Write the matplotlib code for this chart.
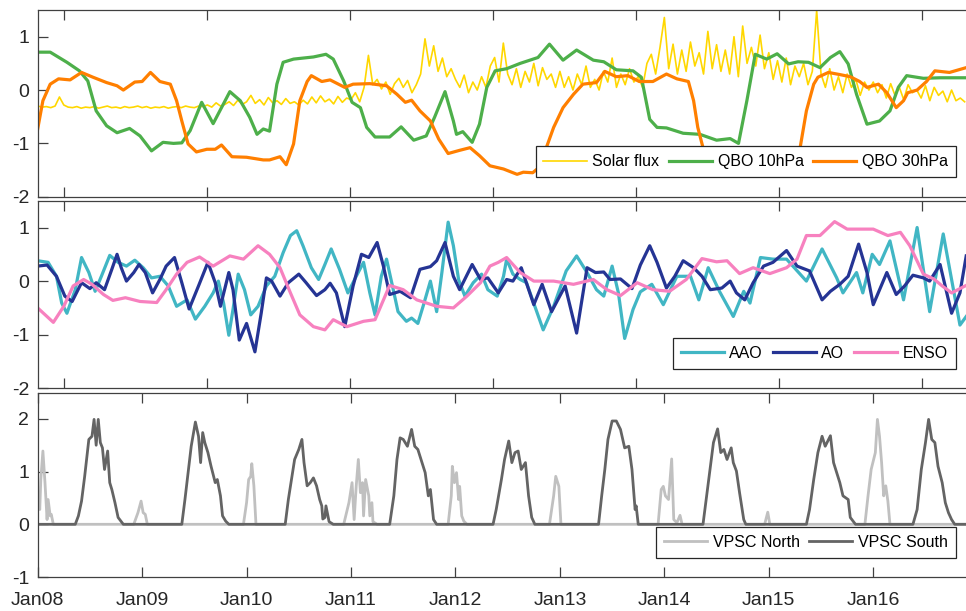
import matplotlib
matplotlib.use("Agg")
import matplotlib.pyplot as plt
import numpy as np

plt.rcParams['font.family'] = ['Liberation Sans', 'DejaVu Sans']
plt.rcParams['axes.unicode_minus'] = False

# ---- panel 1: solar flux (semi-monthly from Jan 2008) and QBO ----
solar_start = 2008.0
solar_flux = [
    -0.30, -0.32, -0.31, -0.33, -0.30, -0.13, -0.28, -0.32, -0.33, -0.31, -0.34, -0.32,
    -0.33, -0.31, -0.34, -0.32, -0.30, -0.33, -0.32, -0.34, -0.31, -0.33, -0.32, -0.30,
    -0.33, -0.31, -0.34, -0.32, -0.33, -0.31, -0.34, -0.32, -0.31, -0.33, -0.30, -0.32,
    -0.33, -0.30, -0.31, -0.28, -0.32, -0.24, -0.30, -0.27, -0.22, -0.29, -0.19, -0.27,
    -0.22, -0.10, -0.25, -0.18, -0.28, -0.14, -0.24, -0.20, -0.27, -0.16, -0.25, -0.22,
    -0.28, -0.19, -0.26, -0.13, -0.24, -0.11, -0.22, -0.17, -0.26, -0.12, -0.23, -0.15,
    -0.18, -0.05, -0.22, 0.05, 0.65, 0.10, 0.20, 0.02, 0.15, -0.08, 0.12, 0.22,
    0.05, 0.18, -0.05, 0.10, 0.30, 0.96, 0.45, 0.83, 0.35, 0.60, 0.25, 0.40,
    0.20, 0.05, 0.28, -0.05, 0.15, 0.00, 0.25, 0.05, 0.45, 0.61, 0.15, 0.88,
    0.30, 0.10, 0.40, 0.05, 0.35, 0.15, 0.50, 0.08, 0.42, 0.20, 0.30, 0.05,
    0.35, 0.05, 0.25, 0.00, 0.30, 0.10, 0.45, 0.05, 0.20, 0.00, 0.35, 0.15,
    0.60, 0.05, 0.30, 0.10, 0.40, 0.15, 0.25, 0.05, 0.50, 0.67, 0.30, 0.80,
    1.36, 0.40, 0.86, 0.30, 0.75, 0.35, 0.90, 0.45, 0.70, 0.30, 1.10, 0.40,
    0.85, 0.35, 0.75, 0.30, 1.00, 0.25, 1.20, 0.50, 0.80, 0.45, 1.03, 0.40,
    0.70, 0.20, 0.55, 0.15, 0.60, 0.10, 0.45, 0.25, 0.50, 0.10, 0.35, 1.49,
    0.30, 0.05, 0.40, 0.00, 0.25, -0.05, 0.30, 0.05, 0.20, -0.10, 0.15, 0.00,
    0.15, -0.05, 0.10, -0.15, 0.12, -0.10, 0.05, -0.18, 0.10, -0.05, 0.00, -0.15,
    0.08, -0.20, 0.05, -0.10, -0.02, -0.22, 0.00, -0.20, -0.15, -0.22,
]

qbo10_t = [2008.00, 2008.12, 2008.28, 2008.40, 2008.48, 2008.56, 2008.66, 2008.76, 2008.88, 2008.98,
           2009.09, 2009.20, 2009.30, 2009.38, 2009.46, 2009.57, 2009.68, 2009.76, 2009.84, 2009.94,
           2010.03, 2010.10, 2010.16, 2010.22, 2010.29, 2010.35, 2010.45, 2010.64, 2010.76, 2010.83,
           2010.93, 2011.01, 2011.09, 2011.15, 2011.23, 2011.37, 2011.48, 2011.60, 2011.72, 2011.80,
           2011.90, 2011.98, 2012.01, 2012.07, 2012.16, 2012.23, 2012.30, 2012.38, 2012.49, 2012.62,
           2012.79, 2012.90, 2013.03, 2013.16, 2013.32, 2013.42, 2013.54, 2013.70, 2013.78, 2013.86,
           2013.93, 2014.02, 2014.18, 2014.34, 2014.50, 2014.63, 2014.71, 2014.79, 2014.87, 2014.98,
           2015.08, 2015.19, 2015.28, 2015.38, 2015.49, 2015.59, 2015.68, 2015.76, 2015.84, 2015.94,
           2016.06, 2016.16, 2016.24, 2016.32, 2016.48, 2016.64, 2016.89]
qbo10_v = [0.71, 0.71, 0.52, 0.36, 0.17, -0.39, -0.67, -0.80, -0.72, -0.86,
           -1.14, -0.98, -1.00, -0.99, -0.76, -0.23, -0.63, -0.33, -0.03, -0.20,
           -0.51, -0.83, -0.73, -0.77, 0.11, 0.52, 0.58, 0.62, 0.67, 0.58,
           0.17, -0.23, -0.33, -0.70, -0.88, -0.88, -0.69, -0.94, -0.86, -0.51,
           -0.03, -0.58, -0.83, -0.78, -0.98, -0.64, 0.05, 0.36, 0.40, 0.50,
           0.61, 0.86, 0.56, 0.75, 0.56, 0.53, 0.38, 0.36, 0.24, -0.55,
           -0.70, -0.71, -0.81, -0.83, -0.94, -0.91, -1.00, -0.20, 0.67, 0.58,
           0.68, 0.49, 0.53, 0.52, 0.42, 0.61, 0.72, 0.49, -0.08, -0.64,
           -0.58, -0.39, 0.05, 0.27, 0.22, 0.23, 0.23]

qbo30_t = [2008.00, 2008.05, 2008.12, 2008.20, 2008.31, 2008.42, 2008.53, 2008.66, 2008.76, 2008.82,
           2008.93, 2009.00, 2009.08, 2009.17, 2009.27, 2009.33, 2009.38, 2009.44, 2009.52, 2009.62,
           2009.70, 2009.76, 2009.86, 2010.00, 2010.16, 2010.22, 2010.32, 2010.38, 2010.45, 2010.51,
           2010.58, 2010.62, 2010.72, 2010.80, 2010.94, 2011.02, 2011.18, 2011.34, 2011.44, 2011.52,
           2011.58, 2011.66, 2011.76, 2011.84, 2011.93, 2012.04, 2012.14, 2012.23, 2012.33, 2012.46,
           2012.59, 2012.65, 2012.74, 2012.80, 2012.87, 2012.94, 2013.03, 2013.13, 2013.22, 2013.35,
           2013.43, 2013.54, 2013.65, 2013.76, 2013.89, 2014.02, 2014.12, 2014.23, 2014.28, 2014.32,
           2014.37, 2014.45, 2014.60, 2014.90, 2015.15, 2015.25, 2015.30, 2015.36, 2015.43, 2015.47,
           2015.57, 2015.68, 2015.78, 2015.87, 2015.94, 2016.05, 2016.13, 2016.22, 2016.29, 2016.33,
           2016.42, 2016.51, 2016.59, 2016.73, 2016.89]
qbo30_v = [-0.73, -0.20, 0.11, 0.21, 0.19, 0.33, 0.24, 0.14, 0.08, 0.00,
           0.15, 0.16, 0.33, 0.16, 0.11, -0.20, -0.58, -1.01, -1.16, -1.11,
           -1.11, -1.03, -1.25, -1.26, -1.31, -1.31, -1.25, -1.40, -1.01, -0.20,
           0.16, 0.27, 0.16, 0.19, 0.05, 0.11, 0.12, 0.08, -0.08, -0.23,
           -0.19, -0.39, -0.58, -0.92, -1.19, -1.13, -1.08, -1.23, -1.42, -1.48,
           -1.58, -1.54, -1.55, -1.45, -1.08, -0.70, -0.33, -0.08, 0.11, 0.14,
           0.35, 0.25, 0.27, 0.16, 0.16, 0.30, 0.21, 0.16, -0.20, -0.70,
           -1.08, -1.55, -1.60, -1.60, -1.58, -1.45, -1.08, -0.39, 0.11, 0.24,
           0.33, 0.29, 0.25, 0.16, 0.05, 0.11, -0.05, -0.33, -0.20, -0.05,
           0.00, 0.16, 0.36, 0.33, 0.42]

# ---- panel 2: AAO, AO, ENSO ----
aao_t = [2008.00, 2008.10, 2008.18, 2008.23, 2008.28, 2008.36, 2008.42, 2008.49, 2008.55, 2008.61,
         2008.69, 2008.77, 2008.85, 2008.93, 2009.01, 2009.09, 2009.17, 2009.25, 2009.33, 2009.43,
         2009.51, 2009.60, 2009.68, 2009.73, 2009.78, 2009.83, 2009.87, 2009.92, 2009.98, 2010.04,
         2010.11, 2010.19, 2010.27, 2010.35, 2010.42, 2010.48, 2010.54, 2010.62, 2010.69, 2010.75,
         2010.81, 2010.89, 2010.97, 2011.05, 2011.12, 2011.18, 2011.23, 2011.29, 2011.34, 2011.39,
         2011.45, 2011.53, 2011.58, 2011.64, 2011.69, 2011.76, 2011.82, 2011.87, 2011.93, 2011.98,
         2012.03, 2012.09, 2012.17, 2012.25, 2012.31, 2012.40, 2012.46, 2012.49, 2012.55, 2012.62,
         2012.68, 2012.76, 2012.84, 2012.94, 2013.06, 2013.16, 2013.26, 2013.35, 2013.42, 2013.50,
         2013.56, 2013.62, 2013.70, 2013.77, 2013.88, 2013.99, 2014.12, 2014.25, 2014.33, 2014.42,
         2014.53, 2014.66, 2014.76, 2014.82, 2014.92, 2015.04, 2015.17, 2015.36, 2015.51, 2015.65,
         2015.71, 2015.84, 2015.90, 2015.99, 2016.06, 2016.16, 2016.29, 2016.42, 2016.54, 2016.67,
         2016.83, 2016.89]
aao_v = [0.38, 0.35, 0.09, -0.41, -0.60, -0.16, 0.44, 0.16, -0.19, 0.09,
         0.48, 0.35, 0.28, 0.39, 0.25, 0.06, 0.09, -0.09, -0.47, -0.35,
         -0.71, -0.47, -0.22, 0.00, -0.41, -1.01, -0.53, 0.13, -0.16, -0.63,
         -0.47, -0.09, 0.09, 0.53, 0.85, 0.94, 0.66, 0.25, 0.03, 0.31,
         0.60, 0.22, -0.22, 0.09, 0.35, -0.22, -0.63, 0.09, 0.41, -0.03,
         -0.57, -0.75, -0.69, -0.79, -0.47, 0.00, -0.57, 0.16, 1.10, 0.66,
         0.03, -0.28, -0.03, 0.13, -0.16, -0.28, 0.09, 0.41, 0.13, 0.03,
         -0.03, -0.47, -0.91, -0.47, 0.19, 0.47, 0.16, -0.16, -0.28, 0.28,
         -0.22, -1.07, -0.53, -0.20, -0.06, -0.44, 0.09, 0.09, -0.35, 0.25,
         -0.20, -0.66, -0.19, -0.41, 0.44, 0.41, 0.41, 0.00, 0.60, 0.06,
         -0.22, 0.16, -0.22, 0.50, 0.31, 0.75, -0.35, 1.00, -0.57, 0.88,
         -0.82, -0.66]

ao_t = [2008.00, 2008.09, 2008.18, 2008.26, 2008.33, 2008.42, 2008.50, 2008.56, 2008.64, 2008.71,
        2008.76, 2008.80, 2008.85, 2008.92, 2008.97, 2009.03, 2009.10, 2009.17, 2009.23, 2009.31,
        2009.38, 2009.45, 2009.54, 2009.63, 2009.70, 2009.75, 2009.83, 2009.87, 2009.93, 2010.00,
        2010.08, 2010.14, 2010.19, 2010.24, 2010.32, 2010.40, 2010.50, 2010.57, 2010.67, 2010.75,
        2010.80, 2010.86, 2010.94, 2011.02, 2011.10, 2011.17, 2011.25, 2011.31, 2011.37, 2011.47,
        2011.57, 2011.66, 2011.76, 2011.82, 2011.90, 2011.98, 2012.04, 2012.16, 2012.24, 2012.31,
        2012.41, 2012.49, 2012.55, 2012.63, 2012.75, 2012.83, 2012.92, 2013.05, 2013.16, 2013.26,
        2013.34, 2013.42, 2013.48, 2013.58, 2013.69, 2013.77, 2013.86, 2013.93, 2014.02, 2014.10,
        2014.18, 2014.28, 2014.36, 2014.44, 2014.55, 2014.63, 2014.69, 2014.77, 2014.85, 2014.95,
        2015.04, 2015.17, 2015.27, 2015.39, 2015.51, 2015.59, 2015.68, 2015.76, 2015.86, 2015.94,
        2016.00, 2016.13, 2016.22, 2016.30, 2016.38, 2016.48, 2016.54, 2016.64, 2016.75, 2016.83,
        2016.89]
ao_v = [0.28, 0.30, 0.09, -0.28, -0.38, -0.03, -0.14, -0.03, -0.16, 0.22,
        0.50, 0.25, 0.00, 0.16, 0.31, 0.16, -0.22, 0.03, 0.28, 0.44,
        -0.03, -0.52, -0.09, 0.35, -0.03, -0.47, 0.16, -0.16, -1.10, -0.79,
        -1.32, -0.60, 0.06, 0.00, -0.28, -0.03, 0.13, -0.03, -0.27, -0.16,
        -0.04, -0.22, -0.85, -0.09, 0.50, 0.44, 0.72, 0.28, -0.25, -0.19,
        -0.31, 0.22, 0.27, 0.38, 0.72, 0.09, -0.16, 0.31, 0.03, 0.06,
        -0.22, 0.03, 0.00, 0.25, -0.44, -0.06, -0.57, -0.09, -0.97, 0.25,
        0.16, 0.17, 0.03, 0.04, -0.14, 0.30, 0.66, 0.35, -0.13, 0.09,
        0.38, 0.25, 0.09, -0.16, -0.13, 0.00, -0.22, -0.35, -0.03, 0.28,
        0.35, 0.57, 0.28, 0.19, -0.35, -0.19, -0.06, 0.09, 0.69, 0.16,
        -0.44, 0.16, -0.25, -0.09, 0.11, 0.06, 0.00, 0.31, -0.60, -0.22,
        0.47]

enso_t = [2008.00, 2008.15, 2008.25, 2008.34, 2008.44, 2008.52, 2008.63, 2008.72, 2008.84, 2008.98,
          2009.14, 2009.23, 2009.33, 2009.43, 2009.55, 2009.68, 2009.84, 2009.97, 2010.11, 2010.22,
          2010.32, 2010.42, 2010.51, 2010.64, 2010.75, 2010.83, 2010.96, 2011.12, 2011.23, 2011.37,
          2011.50, 2011.63, 2011.82, 2011.98, 2012.11, 2012.24, 2012.33, 2012.41, 2012.49, 2012.62,
          2012.75, 2012.94, 2013.13, 2013.32, 2013.45, 2013.58, 2013.74, 2013.89, 2014.05, 2014.21,
          2014.36, 2014.50, 2014.60, 2014.72, 2014.85, 2015.01, 2015.17, 2015.27, 2015.36, 2015.49,
          2015.63, 2015.75, 2015.87, 2016.00, 2016.14, 2016.26, 2016.35, 2016.48, 2016.58, 2016.66,
          2016.75, 2016.89]
enso_v = [-0.50, -0.77, -0.47, -0.09, 0.03, -0.06, -0.25, -0.36, -0.31, -0.38,
          -0.40, -0.16, 0.13, 0.35, 0.45, 0.28, 0.47, 0.41, 0.66, 0.50,
          0.25, -0.22, -0.63, -0.85, -0.91, -0.72, -0.85, -0.75, -0.72, -0.08,
          -0.16, -0.35, -0.47, -0.50, -0.28, -0.03, 0.28, 0.35, 0.44, 0.16,
          0.00, 0.00, -0.06, 0.03, -0.16, -0.27, -0.03, -0.16, -0.19, 0.03,
          0.42, 0.36, 0.38, 0.14, 0.25, 0.14, 0.25, 0.41, 0.85, 0.85,
          1.11, 0.97, 0.97, 0.97, 0.85, 0.91, 0.66, 0.13, 0.04, -0.09,
          -0.22, -0.08]

# ---- panel 3: VPSC ----
vpsc_north_t = [2008.00, 2008.02, 2008.03, 2008.05, 2008.07, 2008.09, 2008.10, 2008.12, 2008.13, 2008.15,
                2008.92, 2008.96, 2008.99, 2009.01, 2009.03, 2009.05,
                2009.97, 2010.00, 2010.02, 2010.04, 2010.05, 2010.07, 2010.09,
                2010.93, 2010.98, 2011.01, 2011.03, 2011.05, 2011.07, 2011.09, 2011.11, 2011.12, 2011.14,
                2011.17, 2011.18, 2011.20, 2011.21, 2011.25,
                2011.93, 2011.96, 2011.97, 2011.99, 2012.01, 2012.03, 2012.04, 2012.06, 2012.08, 2012.11,
                2012.90, 2012.94, 2012.96, 2012.99, 2013.01,
                2013.94, 2013.97, 2013.99, 2014.01, 2014.04, 2014.07, 2014.09, 2014.12, 2014.15, 2014.17,
                2014.96, 2014.99, 2015.01,
                2015.92, 2015.95, 2015.98, 2016.02, 2016.04, 2016.06, 2016.08, 2016.10, 2016.12, 2016.14,
                2016.16, 2016.89]
vpsc_north_v = [0.60, 0.28, 0.85, 1.39, 0.79, 0.09, 0.47, 0.16, 0.19, 0.00,
                0.00, 0.22, 0.44, 0.22, 0.19, 0.00,
                0.00, 0.41, 0.85, 0.91, 1.15, 0.73, 0.00,
                0.00, 0.41, 0.79, 0.09, 0.73, 1.23, 0.60, 0.79, 0.16, 0.85,
                0.54, 0.16, 0.41, 0.05, 0.00,
                0.00, 0.54, 1.10, 0.79, 0.98, 0.47, 0.72, 0.16, 0.06, 0.00,
                0.00, 0.54, 0.91, 0.72, 0.00,
                0.00, 0.66, 0.72, 0.54, 0.47, 1.24, 0.09, 0.03, 0.17, 0.00,
                0.00, 0.23, 0.00,
                0.00, 0.54, 1.04, 1.36, 1.99, 1.67, 1.17, 0.54, 0.73, 0.44,
                0.00, 0.00]

vpsc_south_t = [2008.00, 2008.36, 2008.39, 2008.42, 2008.45, 2008.49, 2008.52, 2008.54, 2008.56, 2008.58,
                2008.60, 2008.62, 2008.64, 2008.67, 2008.69, 2008.71, 2008.74, 2008.77, 2008.80, 2008.82,
                2009.38, 2009.41, 2009.44, 2009.47, 2009.51, 2009.54, 2009.56, 2009.58, 2009.60, 2009.63,
                2009.66, 2009.70, 2009.72, 2009.75, 2009.77, 2009.80, 2009.83,
                2010.37, 2010.40, 2010.43, 2010.46, 2010.50, 2010.53, 2010.55, 2010.58, 2010.61, 2010.64,
                2010.67, 2010.70, 2010.72, 2010.73, 2010.75, 2010.76, 2010.79, 2010.83,
                2011.37, 2011.41, 2011.44, 2011.47, 2011.50, 2011.54, 2011.58, 2011.61, 2011.64, 2011.68,
                2011.71, 2011.74, 2011.76, 2011.79, 2011.82,
                2012.36, 2012.39, 2012.44, 2012.47, 2012.51, 2012.54, 2012.57, 2012.60, 2012.63, 2012.67,
                2012.70, 2012.73, 2012.76,
                2013.37, 2013.40, 2013.43, 2013.46, 2013.50, 2013.54, 2013.58, 2013.62, 2013.66, 2013.69,
                2013.72, 2013.73, 2013.75,
                2014.37, 2014.40, 2014.44, 2014.47, 2014.51, 2014.54, 2014.57, 2014.60, 2014.64, 2014.66,
                2014.69, 2014.72, 2014.76, 2014.78,
                2015.36, 2015.39, 2015.43, 2015.47, 2015.51, 2015.54, 2015.59, 2015.62, 2015.65, 2015.68,
                2015.71, 2015.76, 2015.78, 2015.83,
                2016.38, 2016.42, 2016.46, 2016.50, 2016.53, 2016.56, 2016.59, 2016.62, 2016.66, 2016.69,
                2016.72, 2016.75, 2016.78, 2016.89]
vpsc_south_v = [0.00, 0.00, 0.16, 0.44, 0.91, 1.61, 1.67, 1.99, 1.50, 1.99,
                1.55, 1.45, 1.04, 1.39, 0.79, 0.66, 0.41, 0.13, 0.05, 0.00,
                0.00, 0.47, 0.98, 1.48, 1.94, 1.67, 1.17, 1.74, 1.55, 1.36,
                1.10, 0.79, 0.85, 0.54, 0.16, 0.06, 0.00,
                0.00, 0.47, 0.85, 1.23, 1.42, 1.61, 1.17, 0.73, 0.79, 0.88,
                0.73, 0.47, 0.35, 0.10, 0.13, 0.35, 0.05, 0.00,
                0.00, 0.54, 1.23, 1.64, 1.61, 1.48, 1.80, 1.48, 1.42, 1.17,
                0.98, 0.54, 0.66, 0.09, 0.00,
                0.00, 0.28, 0.85, 1.23, 1.58, 1.17, 1.36, 1.39, 1.04, 1.17,
                0.54, 0.13, 0.00,
                0.00, 0.54, 1.04, 1.61, 1.96, 1.96, 1.80, 1.45, 1.48, 1.04,
                0.28, 0.35, 0.00,
                0.00, 0.47, 1.10, 1.55, 1.81, 1.36, 1.42, 1.23, 1.45, 1.17,
                1.01, 0.60, 0.09, 0.00,
                0.00, 0.28, 0.85, 1.36, 1.67, 1.48, 1.68, 1.17, 0.98, 0.79,
                0.54, 0.47, 0.13, 0.00,
                0.00, 0.28, 1.04, 1.55, 1.99, 1.61, 1.55, 1.10, 0.79, 0.41,
                0.22, 0.09, 0.00, 0.00]

year_labels = ['Jan08', 'Jan09', 'Jan10', 'Jan11', 'Jan12', 'Jan13', 'Jan14', 'Jan15', 'Jan16']
datenum_ticks = [92, 592, 1092, 1592, 2092, 2592, 3092]   # days since 1 Jan 2008

solar_t = solar_start + np.arange(len(solar_flux)) / 24.0
x0, x1 = 2008.0, 2016.888
frame = '#404040'

fig = plt.figure(figsize=(9.66, 6.11), dpi=100)
ax1 = fig.add_axes([0.039, 0.678, 0.961, 0.3056])
ax2 = fig.add_axes([0.039, 0.3645, 0.961, 0.307])
ax3 = fig.add_axes([0.039, 0.0556, 0.961, 0.302])

ax1.plot(solar_t, solar_flux, color='#FFD700', lw=1.2, label='Solar flux')
ax1.plot(qbo10_t, qbo10_v, color='#4DAF4A', lw=2.3, label='QBO 10hPa', solid_joinstyle='round')
ax1.plot(qbo30_t, qbo30_v, color='#FF7F00', lw=2.3, label='QBO 30hPa', solid_joinstyle='round')
ax1.set_ylim(-2, 1.5)

ax2.plot(aao_t, aao_v, color='#41B6C4', lw=2.3, label='AAO', solid_joinstyle='round')
ax2.plot(ao_t, ao_v, color='#253494', lw=2.3, label='AO', solid_joinstyle='round')
ax2.plot(enso_t, enso_v, color='#F781BF', lw=2.3, label='ENSO', solid_joinstyle='round')
ax2.set_ylim(-2, 1.5)

ax3.plot(vpsc_north_t, vpsc_north_v, color='#C0C0C0', lw=2.0, label='VPSC North')
ax3.plot(vpsc_south_t, vpsc_south_v, color='#646464', lw=2.0, label='VPSC South')
ax3.set_ylim(-1, 2.5)

for ax in (ax1, ax2, ax3):
    ax.set_xlim(x0, x1)
    ax.spines['right'].set_visible(False)
    for s in ('left', 'top', 'bottom'):
        ax.spines[s].set_color(frame)
        ax.spines[s].set_linewidth(0.9)
    ax.tick_params(direction='in', length=7, width=0.9, color=frame, labelcolor='#262626',
                   labelsize=14, top=True, right=False, pad=6)
    leg = ax.legend(loc='lower right', bbox_to_anchor=(0.989, 0.105), ncol=3, fontsize=11.5,
                    frameon=True, fancybox=False, framealpha=1, edgecolor='#262626',
                    handlelength=2.7, handletextpad=0.35, columnspacing=0.6,
                    borderaxespad=0, borderpad=0.5)
    leg.get_frame().set_linewidth(0.9)

for ax in (ax1, ax2):
    ax.set_xticks([2008 + d / 365.25 for d in datenum_ticks])
    ax.set_xticklabels([])
    ax.set_yticks([-2, -1, 0, 1])

ax3.set_xticks(np.arange(2008, 2017))
ax3.set_xticklabels(year_labels)
ax3.set_yticks([-1, 0, 1, 2])
ax3.tick_params(axis='x', pad=11)

fig.savefig('out.png', dpi=100)
